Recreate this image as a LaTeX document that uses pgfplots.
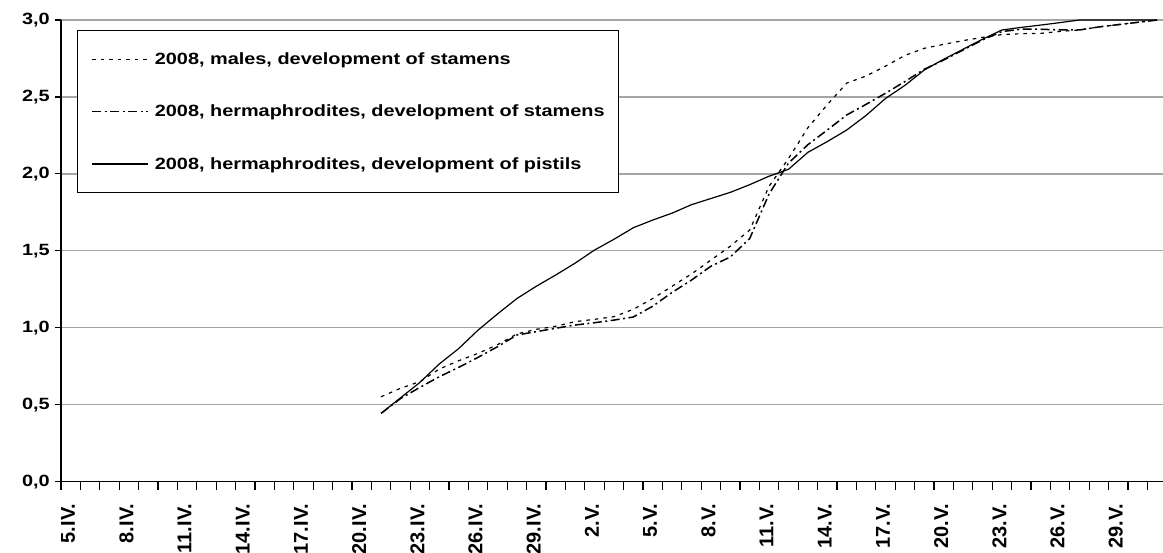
\documentclass[border=0pt]{standalone}
\usepackage{pgfplots}
\pgfplotsset{compat=1.18}
\usepackage{pgfplotstable}
\usepackage{fontspec}
\setmainfont{Liberation Sans}
\newfontfamily\lfont{Liberation Sans}[FakeStretch=1.22]
\definecolor{gridgray}{RGB}{165,165,165}

\pgfplotstableread{
i males hstam hpist
16 0.552 0.444 0.444
17 0.607 0.540 0.545
18 0.650 0.613 0.645
19 0.732 0.682 0.765
20 0.786 0.743 0.865
21 0.834 0.808 0.985
22 0.890 0.877 1.090
23 0.960 0.953 1.190
24 0.990 0.975 1.270
25 1.010 0.997 1.343
26 1.040 1.018 1.420
27 1.055 1.033 1.505
28 1.072 1.050 1.575
29 1.120 1.070 1.650
30 1.190 1.140 1.700
31 1.270 1.230 1.745
32 1.350 1.310 1.800
33 1.440 1.400 1.840
34 1.530 1.460 1.880
35 1.635 1.580 1.930
36 1.920 1.870 1.985
37 2.100 2.070 2.030
38 2.300 2.190 2.140
39 2.450 2.285 2.210
40 2.590 2.383 2.285
41 2.636 2.452 2.380
42 2.700 2.524 2.490
43 2.770 2.600 2.575
44 2.816 2.680 2.675
45 2.842 2.740 2.745
46 2.866 2.805 2.810
47 2.887 2.870 2.875
48 2.905 2.925 2.935
49 2.911 2.940 2.952
50 2.913 2.940 2.967
51 2.926 2.935 2.983
52 2.935 2.935 3.000
53 2.955 2.955 3.000
54 2.970 2.970 3.000
55 2.985 2.985 3.000
56 3.000 3.000 3.000
}\data

\begin{document}
\begin{tikzpicture}
\begin{axis}[
  at={(0pt,0pt)}, anchor=south west,
  width=1101.9pt, height=461.7pt, scale only axis,
  xmin=-0.5, xmax=56.3, ymin=0, ymax=3,
  axis x line*=bottom, axis y line*=left,
  axis line style={line width=1.5pt, black},
  clip=false,
  tick align=outside,
  major tick length=6pt, minor tick length=8pt,
  ytick={0,0.5,1,1.5,2,2.5,3},
  ytick style={line width=1.2pt, black},
  xtick={0,3,...,54},
  xticklabels={5.IV.,8.IV.,11.IV.,14.IV.,17.IV.,20.IV.,23.IV.,26.IV.,29.IV.,2.V.,5.V.,8.V.,11.V.,14.V.,17.V.,20.V.,23.V.,26.V.,29.V.},
  minor xtick={-0.5,0.5,...,55.5},
  xtick style={line width=1.2pt, black},
  major x tick style={draw=none},
  ymajorgrids,
  major grid style={line width=1.3pt, gridgray},
  xticklabel style={yshift=-16pt, xshift=-2.5pt, rotate=90, anchor=east, inner sep=0pt,
    font=\bfseries\fontsize{20pt}{24pt}\selectfont},
  yticklabel style={font=\lfont\bfseries\fontsize{16.3pt}{19pt}\selectfont, inner sep=0pt, xshift=-5pt,
    /pgf/number format/fixed, /pgf/number format/fixed zerofill,
    /pgf/number format/precision=1, /pgf/number format/use comma,
    /pgf/number format/assume math mode=true},
  legend image code/.code={\draw[#1] (0pt,0pt) -- (56pt,0pt);},
  legend cell align=left,
  legend style={at={(0.01452,0.97834)}, anchor=north west, draw=black, line width=1.3pt,
    inner xsep=13.7pt, inner ysep=22pt, row sep=39pt, column sep=6pt,
    font=\lfont\bfseries\fontsize{16.3pt}{19pt}\selectfont,
    nodes={inner sep=0pt}},
]
\addplot[black, line width=1.2pt, dash pattern=on 3.5pt off 5pt] table[x=i, y=males] {\data};
\addlegendentry{2008, males, development of stamens}
\addplot[black, line width=1.5pt, dash pattern=on 9pt off 3.5pt on 2pt off 3.5pt] table[x=i, y=hstam] {\data};
\addlegendentry{2008, hermaphrodites, development of stamens}
\addplot[black, line width=1.2pt] table[x=i, y=hpist] {\data};
\addlegendentry{2008, hermaphrodites, development of pistils}
\end{axis}
\pgfresetboundingbox
\path (-61pt,-71.3pt) rectangle (1102pt,481.7pt);
\end{tikzpicture}
\end{document}
